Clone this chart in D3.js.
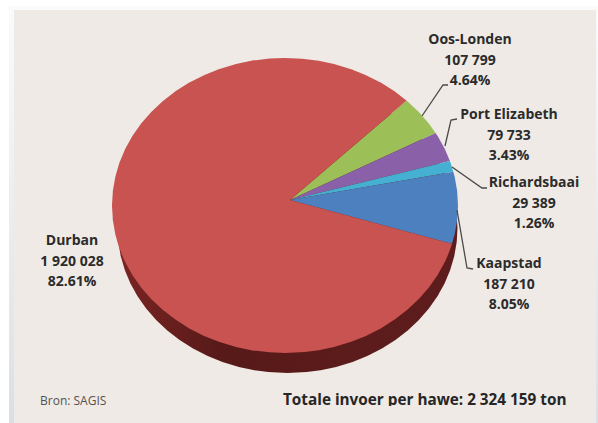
<!DOCTYPE html>
<html>
<head>
<meta charset="utf-8">
<script src="https://cdn.jsdelivr.net/npm/d3@7"></script>
<style>
  html, body { margin: 0; padding: 0; background: #fff; overflow: hidden; }
  text { font-family: "Open Sans", Lato, sans-serif; }
</style>
</head>
<body>
<script>
// Harbour import tonnages, clockwise from the top-right of the pie
const ports = ["Oos-Londen", "Port Elizabeth", "Richardsbaai", "Kaapstad", "Durban"];
const tons = [107799, 79733, 29389, 187210, 1920028];
const tonLabels = ["107 799", "79 733", "29 389", "187 210", "1 920 028"];
const shares = ["4.64%", "3.43%", "1.26%", "8.05%", "82.61%"];
const colours = ["#9cbf57", "#8a60a8", "#45b0d2", "#4d80bf", "#c85350"];
const sourceNote = "Bron: SAGIS";
const totalNote = "Totale invoer per hawe: 2 324 159 ton";

const width = 598, height = 423;
const svg = d3.select("body").append("svg")
  .attr("width", width).attr("height", height)
  .style("display", "block");
const defs = svg.append("defs");

const edge = defs.append("linearGradient").attr("id", "edge")
  .attr("x1", 0).attr("x2", 0).attr("y1", 0).attr("y2", 1);
edge.append("stop").attr("offset", "0%").attr("stop-color", "#fafbfb");
edge.append("stop").attr("offset", "100%").attr("stop-color", "#d9e0e5");

const wall = defs.append("linearGradient").attr("id", "wall")
  .attr("x1", 0).attr("x2", 1).attr("y1", 0).attr("y2", 0);
wall.append("stop").attr("offset", "0%").attr("stop-color", "#7a2523");
wall.append("stop").attr("offset", "30%").attr("stop-color", "#571a19");
wall.append("stop").attr("offset", "100%").attr("stop-color", "#5e1d1c");

// Panel behind the chart
svg.append("rect").attr("x", 9).attr("y", 6).attr("width", 589).attr("height", 417)
  .attr("fill", "url(#edge)");
svg.append("rect").attr("x", 14).attr("y", 10).attr("width", 582).attr("height", 413)
  .attr("fill", "#efeae5");

// Tilted disc: the rim ellipse is slightly off the point where the wedges meet
const rim = { cx: 285, cy: 205.5, rx: 173, ry: 147.5 };
const apex = { x: 290, y: 200 };
const tilt = rim.ry / rim.rx;
const depth = 20;

defs.append("clipPath").attr("id", "rim")
  .append("ellipse")
  .attr("cx", rim.cx).attr("cy", rim.cy).attr("rx", rim.rx).attr("ry", rim.ry);

// Side wall of the disc, inset a little so it tapers out at both ends
svg.append("path")
  .attr("d", d3.arc().innerRadius(0).outerRadius(rim.rx - 3)({ startAngle: 0, endAngle: 2 * Math.PI }))
  .attr("transform", `translate(${rim.cx + 2.5},${rim.cy + depth + 2.5}) scale(1,${tilt})`)
  .attr("fill", "url(#wall)");

// Top face: wedges radiate from the apex and are trimmed by the rim
const pie = d3.pie().value(d => d).sort(null)
  .startAngle(Math.PI / 4)
  .endAngle(Math.PI / 4 + 2 * Math.PI);
const arc = d3.arc().innerRadius(0).outerRadius(rim.rx + 40);
svg.append("g")
  .attr("clip-path", "url(#rim)")
  .append("g")
  .attr("transform", `translate(${apex.x},${apex.y}) scale(1,${tilt})`)
  .selectAll("path")
  .data(pie(tons))
  .join("path")
  .attr("d", arc)
  .attr("fill", (d, i) => colours[i]);

// Leader lines, in port order; Durban has none
const leaders = [
  [[422, 116], [443, 85], [448, 85]],
  [[445, 146], [451, 120], [457, 119]],
  [[452, 167], [482, 188], [487, 188]],
  [[457, 210], [467, 268], [473, 269]]
];
const line = d3.line();
svg.append("g").selectAll("path")
  .data(leaders)
  .join("path")
  .attr("d", line)
  .attr("fill", "none")
  .attr("stroke", "#4a4a48")
  .attr("stroke-width", 1.3);

// Three-line data labels
const labelAnchors = [
  [470, 44], [509, 119], [534, 187], [509, 268], [72, 245]
];
const labels = svg.append("g").selectAll("text")
  .data(ports)
  .join("text")
  .attr("text-anchor", "middle")
  .attr("font-size", 14)
  .attr("font-weight", 700)
  .attr("fill", "#2b2b2b")
  .attr("transform", (d, i) => `translate(${labelAnchors[i][0]},${labelAnchors[i][1]})`);
labels.each(function (d, i) {
  const t = d3.select(this);
  [d, tonLabels[i], shares[i]].forEach((s, k) => {
    t.append("tspan").attr("x", 0).attr("y", k * 20.5).text(s);
  });
});

// Footer notes; the lower edge of the total line is cut off by the panel crop
defs.append("clipPath").attr("id", "footer")
  .append("rect").attr("x", 270).attr("y", 385).attr("width", 320).attr("height", 21);
svg.append("text")
  .attr("x", 40).attr("y", 405)
  .attr("font-size", 12)
  .attr("fill", "#55524f")
  .text(sourceNote);
svg.append("text")
  .attr("x", 283).attr("y", 405)
  .attr("clip-path", "url(#footer)")
  .attr("font-size", 15.3)
  .attr("font-weight", 700)
  .attr("fill", "#262626")
  .text(totalNote);
</script>
</body>
</html>
